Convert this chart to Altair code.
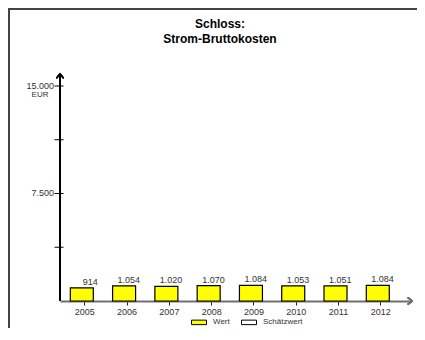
import altair as alt
import pandas as pd

# ---- data ----
years = [2005, 2006, 2007, 2008, 2009, 2010, 2011, 2012]
values = [914, 1054, 1020, 1070, 1084, 1053, 1051, 1084]
series = ["Wert", "Schätzwert"]
series_colors = ["#FFFF00", "#FFFFFF"]
y_ticks = [3750, 7500, 11250, 15000]
y_labels = [7500, 15000]
unit_label = "EUR"
title_lines = ["Schloss:", "Strom-Bruttokosten"]

XMIN, XMAX = 2004.425, 2012.75
YMIN, YMAX = 0, 15837

FONT = "Liberation Sans"


def de(v):
    return f"{v:,}".replace(",", ".")


bars_df = pd.DataFrame({
    "year": years,
    "value": values,
    "label": [de(v) for v in values],
    "series": ["Wert"] * len(years),
})
yt_df = pd.DataFrame({"v": y_ticks})
yl_df = pd.DataFrame({"v": y_labels, "label": [de(v) for v in y_labels]})
title_df = pd.DataFrame({"t": title_lines, "dy": [0, 15]})

xscale = alt.Scale(domain=[XMIN, XMAX], nice=False, zero=False, padding=0)
yscale = alt.Scale(domain=[YMIN, YMAX], nice=False, padding=0)

base = alt.Chart(bars_df)

bars = base.mark_bar(width=23, stroke="black", strokeWidth=1.2, xOffset=-2.5, opacity=1).encode(
    x=alt.X("year:Q", scale=xscale,
            axis=alt.Axis(values=years, format="d", title=None, grid=False,
                          domainColor="#707070", domainWidth=2,
                          tickColor="#222", tickSize=4, tickWidth=1,
                          labelFont=FONT, labelFontSize=9, labelColor="#333",
                          labelPadding=2)),
    y=alt.Y("value:Q", scale=yscale, axis=None),
    color=alt.Color("series:N",
                    scale=alt.Scale(domain=series, range=series_colors),
                    legend=alt.Legend(orient="none", legendX=131, legendY=240,
                                      direction="horizontal", title=None,
                                      symbolType="M-1,-0.3H1V0.3H-1Z",
                                      symbolSize=225, symbolStrokeColor="black",
                                      symbolStrokeWidth=1, symbolOpacity=1,
                                      labelFont=FONT, labelFontSize=8,
                                      labelColor="#333", labelOffset=6,
                                      columnPadding=9, padding=0)),
)

bar_labels = base.mark_text(align="right", baseline="alphabetic", dx=13.5, dy=-3,
                            font=FONT, fontSize=9, color="#333").encode(
    x=alt.X("year:Q", scale=xscale),
    y=alt.Y("value:Q", scale=yscale),
    text="label:N",
)

y_axis_line = alt.Chart(bars_df).mark_rule(color="black", strokeWidth=1.5).encode(
    x=alt.datum(XMIN), y=alt.datum(YMIN), y2=alt.datum(YMAX)
)

y_tick_marks = alt.Chart(yt_df).mark_tick(orient="horizontal", size=9, thickness=1,
                                          color="black", xOffset=-1, opacity=1).encode(
    x=alt.datum(XMIN), y=alt.Y("v:Q", scale=yscale)
)

y_tick_labels = alt.Chart(yl_df).mark_text(align="right", baseline="middle", dx=-6,
                                           font=FONT, fontSize=9, color="#333").encode(
    x=alt.datum(XMIN), y=alt.Y("v:Q", scale=yscale), text="label:N"
)

unit_text = alt.Chart(pd.DataFrame({"v": [max(y_labels)], "t": [unit_label]})).mark_text(
    align="center", baseline="middle", dx=-20, dy=9, font=FONT, fontSize=8, color="#333"
).encode(x=alt.datum(XMIN), y=alt.Y("v:Q", scale=yscale), text="t:N")

y_arrow = alt.Chart(bars_df).mark_point(shape="M-1,1.2L0,0L1,1.2", filled=False,
                                        size=49, color="black", strokeWidth=1.2,
                                        opacity=1).encode(
    x=alt.datum(XMIN), y=alt.datum(YMAX)
)

x_arrow = alt.Chart(bars_df).mark_point(shape="M-1.2,-1L0,0L-1.2,1", filled=False,
                                        size=49, color="#707070", strokeWidth=1.5,
                                        opacity=1).encode(
    x=alt.datum(XMAX), y=alt.datum(YMIN)
)

frame_left = alt.Chart(bars_df).mark_rule(color="#444", strokeWidth=2).encode(
    x=alt.value(-51), y=alt.value(-65), y2=alt.value(260)
)
frame_top = alt.Chart(bars_df).mark_rule(color="#444", strokeWidth=2).encode(
    x=alt.value(-52), x2=alt.value(360), y=alt.value(-65)
)

title_text = alt.Chart(title_df).mark_text(
    align="center", baseline="alphabetic", font=FONT, fontSize=12,
    fontWeight="bold", color="black"
).encode(
    x=alt.value(160), y=alt.value(-46), yOffset=alt.YOffset("dy:Q", scale=None),
    text="t:N"
)

chart = alt.layer(
    frame_left, frame_top, title_text, bars, bar_labels, y_axis_line, y_tick_marks,
    y_tick_labels, unit_text, y_arrow, x_arrow,
).properties(
    width=352, height=227,
    padding={"left": 52, "top": 66, "right": 5, "bottom": 27},
    autosize=alt.AutoSizeParams(type="none"),
).configure_view(stroke=None).configure_axis(labelFont=FONT)

chart.save("out.html", embed_options={"renderer": "svg", "actions": False})
